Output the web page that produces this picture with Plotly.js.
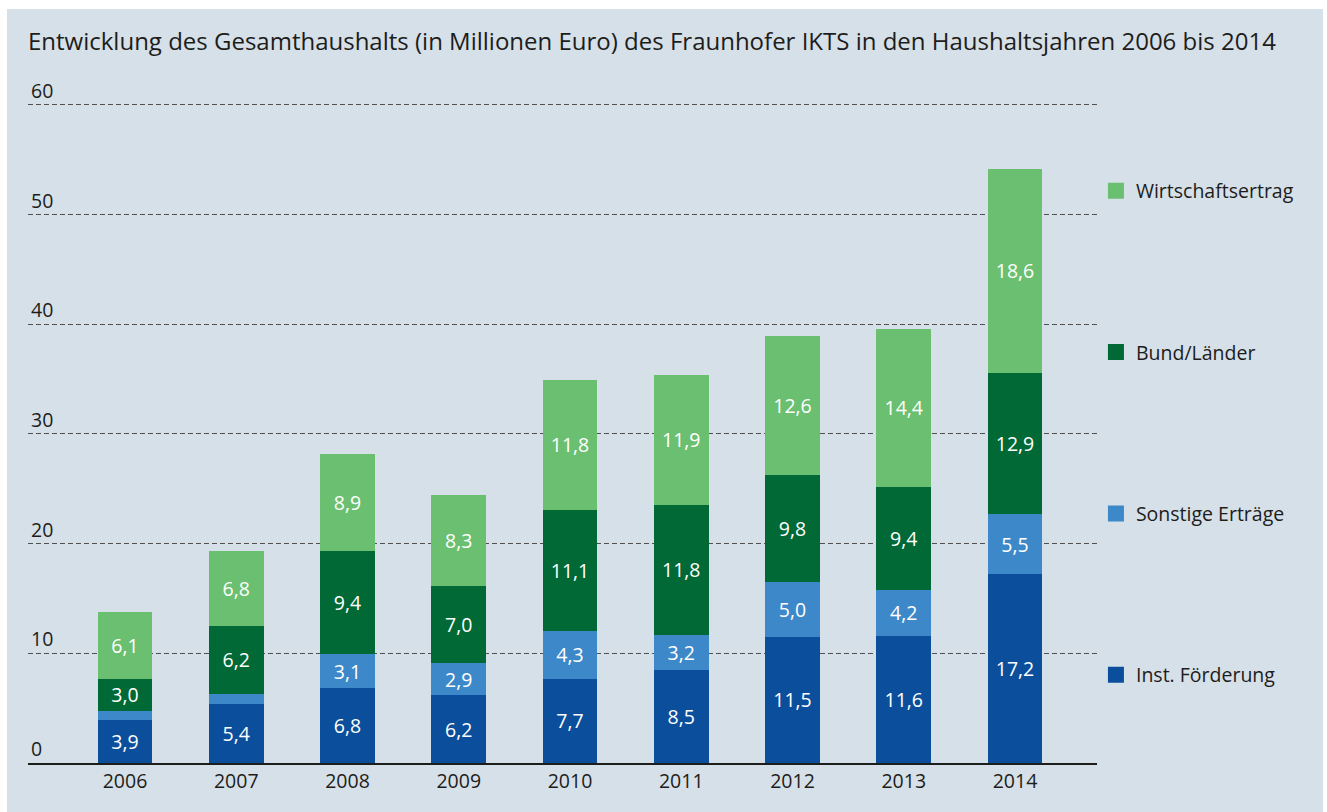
<!DOCTYPE html>
<html>
<head>
<meta charset="utf-8">
<script src="https://cdn.plot.ly/plotly-3.0.1.min.js"></script>
<style>
html,body{margin:0;padding:0;background:#ffffff;width:1327px;height:812px;overflow:hidden;}
#chart{position:absolute;left:7px;top:9px;width:1316px;height:803px;}
</style>
</head>
<body>
<div id="chart"></div>
<script>
const years = ["2006","2007","2008","2009","2010","2011","2012","2013","2014"];
const instFoerderung = [3.9, 5.4, 6.8, 6.2, 7.7, 8.5, 11.5, 11.6, 17.2];
const sonstigeErtraege = [0.8, 0.9, 3.1, 2.9, 4.3, 3.2, 5.0, 4.2, 5.5];
const bundLaender = [3.0, 6.2, 9.4, 7.0, 11.1, 11.8, 9.8, 9.4, 12.9];
const wirtschaftsertrag = [6.1, 6.8, 8.9, 8.3, 11.8, 11.9, 12.6, 14.4, 18.6];
const totals = [13.8, 19.3, 28.2, 24.4, 35.0, 35.3, 38.9, 39.6, 54.2];
const showSonstigeLabel = [false, false, true, true, true, true, true, true, true];
const yTicks = [0, 10, 20, 30, 40, 50, 60];

const fmt = v => v.toFixed(1).replace('.', ',');
const FONT = "Open Sans, Noto Sans, sans-serif";
const FS = 19.5;

const series = [
  {name: "Inst. Förderung", y: instFoerderung, color: "#0b4f9c", labels: instFoerderung.map(fmt)},
  {name: "Sonstige Erträge", y: sonstigeErtraege, color: "#3d88c8", labels: sonstigeErtraege.map((v,i)=> showSonstigeLabel[i] ? fmt(v) : "")},
  {name: "Bund/Länder", y: bundLaender, color: "#006935", labels: bundLaender.map(fmt)},
  {name: "Wirtschaftsertrag", y: wirtschaftsertrag, color: "#6bbf70", labels: wirtschaftsertrag.map(fmt)}
];

const traces = [];
series.forEach((s, i) => {
  traces.push({
    type: "bar", x: years, y: s.y, name: s.name,
    marker: {color: s.color, line: {width: 0}},
    width: 0.494,
    text: s.labels, textposition: "inside", insidetextanchor: "middle",
    textangle: 0, constraintext: "none",
    textfont: {family: FONT, size: FS, color: "#ffffff"},
    hoverinfo: "skip", showlegend: false
  });
});
// legend entries, top to bottom: Wirtschaftsertrag ... Inst. Förderung
series.slice().reverse().forEach((s, i) => {
  traces.push({
    type: "scatter", mode: "markers", x: [null], y: [null], name: s.name,
    marker: {symbol: "square", size: 17, color: s.color},
    legendgroup: "g" + i, showlegend: true, hoverinfo: "skip"
  });
});

const annotations = years.map((yr, i) => ({
  x: yr, y: totals[i], xref: "x", yref: "y",
  text: fmt(totals[i]), showarrow: false, yanchor: "bottom", yshift: 2,
  font: {family: FONT, size: FS, color: "#1d1d1b"}
}));

const layout = {
  width: 1316, height: 803,
  paper_bgcolor: "#d6e0e9", plot_bgcolor: "rgba(0,0,0,0)",
  margin: {l: 21, r: 226, t: 63, b: 49},
  barmode: "stack",
  font: {family: FONT, color: "#1d1d1b", size: FS},
  title: {
    text: "Entwicklung des Gesamthaushalts (in Millionen Euro) des Fraunhofer IKTS in den Haushaltsjahren 2006 bis 2014",
    x: 21/1316, xref: "container", xanchor: "left",
    y: 1 - 33/803, yref: "container", yanchor: "middle",
    font: {family: FONT, size: 24, color: "#1d1d1b"}
  },
  xaxis: {
    type: "category", range: [-0.872, 8.737],
    showgrid: false, zeroline: false,
    showline: true, linecolor: "#1d1d1b", linewidth: 1.5,
    ticks: "", tickfont: {family: FONT, size: FS, color: "#1d1d1b"},
    fixedrange: true
  },
  yaxis: {
    range: [0, 63], tickvals: yTicks, ticktext: yTicks.map(String),
    showgrid: true, gridcolor: "#505050", gridwidth: 1, griddash: "5px,3px",
    zeroline: false, showline: false, ticks: "",
    ticklabelposition: "inside top",
    tickfont: {family: FONT, size: FS, color: "#1d1d1b"},
    fixedrange: true
  },
  legend: {
    x: 0.999, xanchor: "left", y: 0.856, yanchor: "top",
    traceorder: "grouped", tracegroupgap: 133,
    bgcolor: "rgba(0,0,0,0)",
    font: {family: FONT, size: FS, color: "#1d1d1b"}
  },
  annotations: annotations,
  showlegend: true
};

Plotly.newPlot("chart", traces, layout, {displayModeBar: false, staticPlot: true});
</script>
</body>
</html>
